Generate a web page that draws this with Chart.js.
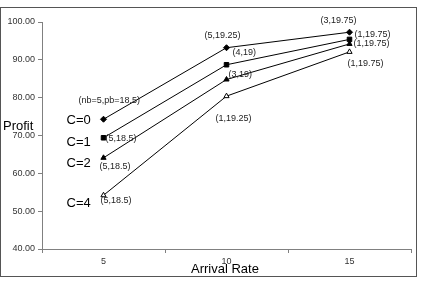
<!DOCTYPE html>
<html>
<head>
<meta charset="utf-8">
<script src="https://cdn.jsdelivr.net/npm/chart.js@4"></script>
<style>
  html, body { margin: 0; padding: 0; background: #fff; }
  #wrap { width: 422px; height: 293px; }
</style>
</head>
<body>
<div id="wrap"><canvas id="profitChart" width="422" height="293"></canvas></div>
<script>
// data
const arrivalRates = ["5", "10", "15"];
const seriesNames = ["C=0", "C=1", "C=2", "C=4"];
const profitC0 = [74.3, 93.2, 97.3];
const profitC1 = [69.4, 88.7, 95.4];
const profitC2 = [64.1, 84.8, 94.2];
const profitC4 = [54.2, 80.4, 92.1];
const labelsC0 = ["(nb=5,pb=18.5)", "(5,19.25)", "(3,19.75)"];
const labelsC1 = ["(5,18.5)", "(4,19)", "(1,19.75)"];
const labelsC2 = ["(5,18.5)", "(3,19)", "(1,19.75)"];
const labelsC4 = ["(5,18.5)", "(1,19.25)", "(1,19.75)"];
const yTicks = [40, 50, 60, 70, 80, 90, 100];

const FONT = "'Liberation Sans', Arial, sans-serif";

// where each point label sits, relative to its point
const labelOffsets = [
    [[-25, -19], [-22, -12], [-29, -12]],
    [[2, 1], [6, -12], [5, -5]],
    [[-4, 9], [2, -5], [4, 0]],
    [[-3, 5], [-11, 22], [-2, 12]]
];
const nameOffsets = [[-37, 1], [-37, 5], [-37, 6], [-37, 8]];

const pointLabels = [labelsC0, labelsC1, labelsC2, labelsC4];

const framePlugin = {
    id: "frame",
    beforeDraw(chart) {
        const ctx = chart.ctx;
        ctx.save();
        ctx.fillStyle = "#fff";
        ctx.fillRect(0, 0, chart.width, chart.height);
        ctx.strokeStyle = "#555";
        ctx.lineWidth = 1;
        ctx.strokeRect(0.5, 7.5, 416, 269);
        ctx.restore();
    },
    afterDraw(chart) {
        const ctx = chart.ctx;
        ctx.save();
        ctx.fillStyle = "#000";
        ctx.textAlign = "left";
        ctx.textBaseline = "middle";

        // point labels and series names
        chart.data.datasets.forEach((ds, i) => {
            const meta = chart.getDatasetMeta(i);
            ctx.font = "9px " + FONT;
            ctx.fillStyle = "#222";
            meta.data.forEach((pt, j) => {
                const off = labelOffsets[i][j];
                ctx.fillText(pointLabels[i][j], pt.x + off[0], pt.y + off[1]);
            });
            const first = meta.data[0];
            ctx.font = "13px " + FONT;
            ctx.fillStyle = "#000";
            ctx.fillText(seriesNames[i], first.x + nameOffsets[i][0], first.y + nameOffsets[i][1]);
        });

        // axis titles
        ctx.font = "13px " + FONT;
        ctx.fillText("Profit", 3, 126);
        ctx.fillText("Arrival Rate", 191, 269);
        ctx.restore();
    }
};

new Chart(document.getElementById("profitChart"), {
    type: "line",
    data: {
        labels: arrivalRates,
        datasets: [
            { label: seriesNames[0], data: profitC0, pointStyle: "rectRot", pointRadius: 3,
              pointBackgroundColor: "#000" },
            { label: seriesNames[1], data: profitC1, pointStyle: "rect", pointRadius: 3.2,
              pointBackgroundColor: "#000" },
            { label: seriesNames[2], data: profitC2, pointStyle: "triangle", pointRadius: 3,
              pointBackgroundColor: "#000" },
            { label: seriesNames[3], data: profitC4, pointStyle: "triangle", pointRadius: 3,
              pointBackgroundColor: "#fff" }
        ].map(ds => Object.assign({
            borderColor: "#000",
            borderWidth: 1,
            pointBorderColor: "#000",
            pointBorderWidth: 1,
            tension: 0,
            fill: false
        }, ds))
    },
    options: {
        responsive: false,
        animation: false,
        events: [],
        layout: { padding: { top: 22, right: 11, left: 0, bottom: 0 } },
        plugins: { legend: { display: false }, tooltip: { enabled: false } },
        scales: {
            x: {
                type: "category",
                offset: true,
                afterFit: s => { s.height = 44; },
                grid: { offset: true, drawOnChartArea: false, drawTicks: true, tickLength: 4, color: "#808080" },
                border: { color: "#808080" },
                ticks: { font: { family: FONT, size: 9 }, color: "#333", padding: 3 }
            },
            y: {
                min: 40,
                max: 100,
                afterFit: s => { s.width = 42; },
                afterBuildTicks: s => { s.ticks = yTicks.map(v => ({ value: v })); },
                grid: { drawOnChartArea: false, drawTicks: true, tickLength: 4, color: "#808080" },
                border: { color: "#808080" },
                ticks: {
                    font: { family: FONT, size: 9 }, color: "#333", padding: 3,
                    callback: v => Number(v).toFixed(2)
                }
            }
        }
    },
    plugins: [framePlugin]
});
</script>
</body>
</html>
